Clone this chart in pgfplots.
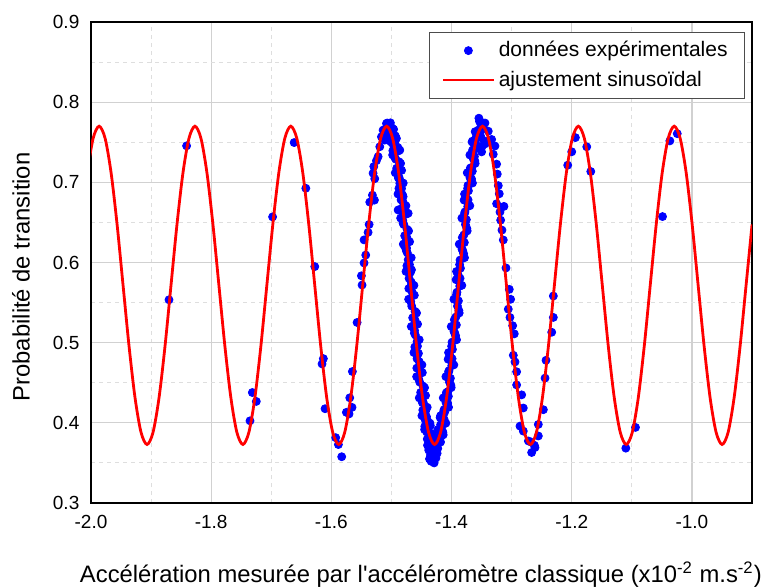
\documentclass[border=0pt]{standalone}
\usepackage{fontspec}
\setmainfont{Liberation Sans}[Ligatures=TeXOff]
\usepackage{pgfplots}
\pgfplotsset{compat=1.18}
\begin{document}
\begin{tikzpicture}
\begin{axis}[
  scale only axis,
  width=330.5pt, height=240.5pt,
  xmin=-2.0, xmax=-0.9, ymin=0.3, ymax=0.9,
  xtick={-2.0,-1.8,-1.6,-1.4,-1.2,-1.0},
  ytick={0.3,0.4,0.5,0.6,0.7,0.8,0.9},
  minor x tick num=1, minor y tick num=1,
  major tick length=0pt, minor tick length=0pt,
  grid=both,
  clip marker paths=true,
  major grid style={solid, color=black!18, line width=0.6pt},
  minor grid style={color=black!13, line width=0.5pt, dash pattern=on 2pt off 2pt},
  axis line style={line width=0.9pt, black},
  /pgf/number format/assume math mode=true,
  xticklabel style={font=\fontsize{9.5}{11}\selectfont, yshift=-2.5pt, /pgf/number format/fixed, /pgf/number format/fixed zerofill, /pgf/number format/precision=1},
  yticklabel style={font=\fontsize{9.5}{11}\selectfont, xshift=-2.3pt, /pgf/number format/fixed, /pgf/number format/fixed zerofill, /pgf/number format/precision=1},
  xlabel={Accélération mesurée par l'accéléromètre classique (x10\textsuperscript{-2} m.s\textsuperscript{-2})},
  ylabel={Probabilité de transition},
  xlabel style={at={(axis description cs:0.499,-0.165)}, anchor=base, font=\fontsize{11.9}{14}\selectfont},
  ylabel style={at={(axis description cs:-0.1059,0.47)}, anchor=center, font=\fontsize{11.9}{14}\selectfont},
  legend style={at={(1,1)}, anchor=north east, xshift=-3.5pt, yshift=-5pt, draw=black!70, font=\fontsize{10.5}{12}\selectfont, row sep=1.5pt, inner xsep=6.5pt, inner ysep=2.5pt},
  legend cell align=left,
  legend image code/.code={\draw[mark repeat=2,mark phase=2,#1] plot coordinates {(0pt,0pt) (12.5pt,0pt) (25pt,0pt)};},
]
\addplot[only marks, mark=*, mark size=2pt, color=blue, mark options={draw=blue, fill=blue}] coordinates {
(-1.8702,0.5535) (-1.8409,0.7455) (-1.7354,0.4025) (-1.7315,0.4378) (-1.7249,0.4267)
(-1.6978,0.6569) (-1.6619,0.7496) (-1.6425,0.6926) (-1.6276,0.5949) (-1.6133,0.4801)
(-1.6155,0.4735) (-1.6105,0.4176) (-1.5928,0.3815) (-1.5883,0.3729) (-1.5828,0.3577)
(-1.5750,0.4131) (-1.5706,0.4111) (-1.5656,0.4193) (-1.5694,0.4312) (-1.5650,0.4640)
(-1.5572,0.5252) (-1.5489,0.5719) (-1.5500,0.5834) (-1.5456,0.5994) (-1.5428,0.6093)
(-1.5456,0.6282) (-1.5389,0.6376) (-1.5372,0.6474) (-1.5361,0.6753) (-1.5283,0.6778)
(-1.5317,0.6840) (-1.5278,0.7045) (-1.5306,0.7114) (-1.5294,0.7197) (-1.5250,0.7270)
(-1.5222,0.7320) (-1.5194,0.7444) (-1.5167,0.7568) (-1.5139,0.7651) (-1.5111,0.7527)
(-1.5083,0.7734) (-1.5028,0.7631) (-1.4972,0.7589) (-1.4917,0.7548) (-1.5100,0.7600)
(-1.5050,0.7560) (-1.5000,0.7500) (-1.4950,0.7420)
(-1.4861,0.7402) (-1.4861,0.6988) (-1.4806,0.6822) (-1.4861,0.6656) (-1.4722,0.6614)
(-1.4806,0.6490) (-1.4750,0.6282) (-1.4778,0.6200) (-1.4722,0.6033) (-1.4667,0.5909)
(-1.4667,0.5722) (-1.4889,0.6655)
(-1.5070,0.7740) (-1.5110,0.7660) (-1.5078,0.7662) (-1.5018,0.7742) (-1.5006,0.7690)
(-1.5046,0.7610) (-1.5014,0.7582) (-1.4964,0.7662) (-1.5001,0.7640) (-1.4971,0.7560)
(-1.4949,0.7504) (-1.5009,0.7584) (-1.4937,0.7474) (-1.4977,0.7394) (-1.4945,0.7311)
(-1.4885,0.7391) (-1.4873,0.7256) (-1.4913,0.7176) (-1.4881,0.7069) (-1.4831,0.7149)
(-1.4869,0.7051) (-1.4839,0.6971) (-1.4816,0.6844) (-1.4876,0.6924) (-1.4804,0.6748)
(-1.4844,0.6668) (-1.4812,0.6524) (-1.4752,0.6604) (-1.4740,0.6414) (-1.4780,0.6334)
(-1.4748,0.6179) (-1.4698,0.6259) (-1.4736,0.6120) (-1.4706,0.6040) (-1.4683,0.5878)
(-1.4743,0.5958) (-1.4671,0.5755) (-1.4711,0.5675) (-1.4679,0.5512) (-1.4619,0.5592)
(-1.4607,0.5390) (-1.4647,0.5310) (-1.4615,0.5151) (-1.4565,0.5231) (-1.4603,0.5096)
(-1.4573,0.5016) (-1.4551,0.4866) (-1.4611,0.4946) (-1.4538,0.4763) (-1.4578,0.4683)
(-1.4546,0.4546) (-1.4486,0.4626) (-1.4474,0.4459) (-1.4514,0.4379) (-1.4482,0.4261)
(-1.4432,0.4341) (-1.4470,0.4254) (-1.4440,0.4174) (-1.4418,0.4079) (-1.4478,0.4159)
(-1.4405,0.4036) (-1.4445,0.3956) (-1.4413,0.3886) (-1.4353,0.3966) (-1.4341,0.3870)
(-1.4381,0.3790) (-1.4349,0.3748) (-1.4299,0.3828) (-1.4337,0.3820) (-1.4307,0.3740)
(-1.4285,0.3728) (-1.4345,0.3808) (-1.4273,0.3770) (-1.4313,0.3690)
(-1.5054,0.7696) (-1.5062,0.7681) (-1.5010,0.7651) (-1.5018,0.7606) (-1.4965,0.7547)
(-1.4973,0.7474) (-1.4921,0.7388) (-1.4929,0.7289) (-1.4877,0.7178) (-1.4885,0.7055)
(-1.4832,0.6923) (-1.4840,0.6781) (-1.4788,0.6631) (-1.4796,0.6474) (-1.4744,0.6312)
(-1.4752,0.6145) (-1.4700,0.5974) (-1.4707,0.5802) (-1.4655,0.5629) (-1.4663,0.5456)
(-1.4611,0.5286) (-1.4619,0.5119) (-1.4567,0.4956) (-1.4574,0.4800) (-1.4522,0.4650)
(-1.4530,0.4508) (-1.4478,0.4375) (-1.4486,0.4253) (-1.4434,0.4142) (-1.4442,0.4043)
(-1.4389,0.3956) (-1.4397,0.3883) (-1.4345,0.3824) (-1.4353,0.3779) (-1.4301,0.3749)
(-1.4309,0.3734)
(-1.4981,0.7670) (-1.5069,0.7632) (-1.4936,0.7580) (-1.5024,0.7514) (-1.4892,0.7434)
(-1.4980,0.7341) (-1.4848,0.7236) (-1.4936,0.7119) (-1.4804,0.6991) (-1.4891,0.6854)
(-1.4759,0.6708) (-1.4847,0.6554) (-1.4715,0.6394) (-1.4803,0.6229) (-1.4671,0.6060)
(-1.4758,0.5888) (-1.4626,0.5715) (-1.4714,0.5542) (-1.4582,0.5370) (-1.4670,0.5201)
(-1.4538,0.5036) (-1.4626,0.4876) (-1.4493,0.4723) (-1.4581,0.4576) (-1.4449,0.4439)
(-1.4537,0.4311) (-1.4405,0.4194) (-1.4493,0.4089) (-1.4360,0.3996) (-1.4448,0.3916)
(-1.4316,0.3850) (-1.4404,0.3798) (-1.4272,0.3760)
(-1.4367,0.3550) (-1.4340,0.3520) (-1.4310,0.3580) (-1.4285,0.3610) (-1.4260,0.3560)
(-1.4240,0.3620) (-1.4320,0.3640) (-1.4380,0.3660) (-1.4400,0.3720) (-1.4230,0.3680)
(-1.4290,0.3500) (-1.4350,0.3600)
(-1.4250,0.3778) (-1.4290,0.3698) (-1.4258,0.3730) (-1.4198,0.3810) (-1.4186,0.3818)
(-1.4226,0.3738) (-1.4194,0.3800) (-1.4144,0.3880) (-1.4182,0.3976) (-1.4152,0.3896)
(-1.4130,0.3986) (-1.4190,0.4066) (-1.4117,0.4129) (-1.4157,0.4049) (-1.4125,0.4164)
(-1.4065,0.4244) (-1.4053,0.4331) (-1.4093,0.4251) (-1.4061,0.4389) (-1.4011,0.4469)
(-1.4049,0.4636) (-1.4019,0.4556) (-1.3997,0.4713) (-1.4057,0.4793) (-1.3985,0.4916)
(-1.4025,0.4836) (-1.3992,0.5006) (-1.3932,0.5086) (-1.3920,0.5221) (-1.3960,0.5141)
(-1.3928,0.5320) (-1.3878,0.5400) (-1.3916,0.5602) (-1.3886,0.5522) (-1.3864,0.5705)
(-1.3924,0.5785) (-1.3852,0.5928) (-1.3892,0.5848) (-1.3859,0.6030) (-1.3799,0.6110)
(-1.3787,0.6249) (-1.3827,0.6169) (-1.3795,0.6344) (-1.3745,0.6424) (-1.3783,0.6614)
(-1.3753,0.6534) (-1.3731,0.6698) (-1.3791,0.6778) (-1.3719,0.6894) (-1.3759,0.6814)
(-1.3727,0.6961) (-1.3667,0.7041) (-1.3654,0.7139) (-1.3694,0.7059) (-1.3662,0.7186)
(-1.3612,0.7266) (-1.3650,0.7401) (-1.3620,0.7321) (-1.3598,0.7424) (-1.3658,0.7504)
(-1.3586,0.7554) (-1.3626,0.7474) (-1.3594,0.7550) (-1.3534,0.7630) (-1.3522,0.7652)
(-1.3562,0.7572) (-1.3529,0.7620) (-1.3479,0.7700) (-1.3517,0.7752) (-1.3487,0.7672)
(-1.3475,0.7690) (-1.3535,0.7760)
(-1.4256,0.3734) (-1.4264,0.3749) (-1.4212,0.3779) (-1.4220,0.3824) (-1.4168,0.3883)
(-1.4176,0.3956) (-1.4124,0.4043) (-1.4131,0.4142) (-1.4079,0.4253) (-1.4087,0.4375)
(-1.4035,0.4508) (-1.4043,0.4650) (-1.3991,0.4800) (-1.3999,0.4956) (-1.3946,0.5119)
(-1.3954,0.5286) (-1.3902,0.5456) (-1.3910,0.5629) (-1.3858,0.5802) (-1.3866,0.5974)
(-1.3813,0.6145) (-1.3821,0.6312) (-1.3769,0.6474) (-1.3777,0.6631) (-1.3725,0.6781)
(-1.3733,0.6923) (-1.3681,0.7055) (-1.3688,0.7178) (-1.3636,0.7289) (-1.3644,0.7388)
(-1.3592,0.7474) (-1.3600,0.7547) (-1.3548,0.7606) (-1.3555,0.7651) (-1.3503,0.7681)
(-1.3511,0.7696)
(-1.4183,0.3760) (-1.4271,0.3798) (-1.4139,0.3850) (-1.4227,0.3916) (-1.4095,0.3996)
(-1.4182,0.4089) (-1.4050,0.4194) (-1.4138,0.4311) (-1.4006,0.4439) (-1.4094,0.4576)
(-1.3962,0.4723) (-1.4050,0.4876) (-1.3917,0.5036) (-1.4005,0.5201) (-1.3873,0.5370)
(-1.3961,0.5542) (-1.3829,0.5715) (-1.3917,0.5888) (-1.3784,0.6060) (-1.3872,0.6229)
(-1.3740,0.6394) (-1.3828,0.6554) (-1.3696,0.6708) (-1.3784,0.6854) (-1.3652,0.6991)
(-1.3739,0.7119) (-1.3607,0.7236) (-1.3695,0.7341) (-1.3563,0.7434) (-1.3651,0.7514)
(-1.3519,0.7580) (-1.3607,0.7632) (-1.3474,0.7670)
(-1.3545,0.7800) (-1.3490,0.7450) (-1.3460,0.7520) (-1.3500,0.7380) (-1.3440,0.7480)
(-1.3520,0.7560)
(-1.3444,0.7740) (-1.3389,0.7638) (-1.3333,0.7535) (-1.3278,0.7453) (-1.3306,0.7350)
(-1.3250,0.7227) (-1.3239,0.7103) (-1.3222,0.6959) (-1.3206,0.6857) (-1.3250,0.6733)
(-1.3128,0.6700) (-1.3194,0.6630) (-1.3183,0.6528) (-1.3161,0.6404) (-1.3139,0.6281)
(-1.3094,0.5932) (-1.3039,0.5665) (-1.3017,0.5541) (-1.3056,0.5418) (-1.3028,0.5315)
(-1.2983,0.5212) (-1.2956,0.5110) (-1.2972,0.4843) (-1.2944,0.4760) (-1.2917,0.4637)
(-1.2917,0.4473) (-1.2833,0.4349) (-1.2806,0.4185) (-1.2861,0.3959) (-1.2806,0.3897)
(-1.2722,0.3774) (-1.2667,0.3630) (-1.2611,0.3692) (-1.2678,0.3760) (-1.2622,0.3720)
(-1.2556,0.3836) (-1.2556,0.3980) (-1.2472,0.4164) (-1.2444,0.4558) (-1.2428,0.4780)
(-1.2333,0.5130) (-1.2306,0.5315) (-1.2306,0.5582)
(-1.2067,0.7214) (-1.2000,0.7381) (-1.1939,0.7558) (-1.1750,0.7443) (-1.1683,0.7135)
(-1.1100,0.3684) (-1.0939,0.3943) (-1.0489,0.6573) (-1.0367,0.7517) (-1.0244,0.7607)
};
\addlegendentry{données expérimentales}
\addplot[color=red, line width=1.4pt, smooth, mark=none] coordinates {
(-2.00644,0.7119) (-1.99647,0.7549) (-1.98650,0.7700) (-1.97653,0.7549) (-1.96656,0.7119)
(-1.95659,0.6475) (-1.94663,0.5715) (-1.93666,0.4955) (-1.92669,0.4311) (-1.91672,0.3881)
(-1.90675,0.3730) (-1.89678,0.3881) (-1.88681,0.4311) (-1.87684,0.4955) (-1.86688,0.5715)
(-1.85691,0.6475) (-1.84694,0.7119) (-1.83697,0.7549) (-1.82700,0.7700) (-1.81703,0.7549)
(-1.80706,0.7119) (-1.79709,0.6475) (-1.78713,0.5715) (-1.77716,0.4955) (-1.76719,0.4311)
(-1.75722,0.3881) (-1.74725,0.3730) (-1.73728,0.3881) (-1.72731,0.4311) (-1.71734,0.4955)
(-1.70738,0.5715) (-1.69741,0.6475) (-1.68744,0.7119) (-1.67747,0.7549) (-1.66750,0.7700)
(-1.65753,0.7549) (-1.64756,0.7119) (-1.63759,0.6475) (-1.62763,0.5715) (-1.61766,0.4955)
(-1.60769,0.4311) (-1.59772,0.3881) (-1.58775,0.3730) (-1.57778,0.3881) (-1.56781,0.4311)
(-1.55784,0.4955) (-1.54788,0.5715) (-1.53791,0.6475) (-1.52794,0.7119) (-1.51797,0.7549)
(-1.50800,0.7700) (-1.49803,0.7549) (-1.48806,0.7119) (-1.47809,0.6475) (-1.46813,0.5715)
(-1.45816,0.4955) (-1.44819,0.4311) (-1.43822,0.3881) (-1.42825,0.3730) (-1.41828,0.3881)
(-1.40831,0.4311) (-1.39834,0.4955) (-1.38838,0.5715) (-1.37841,0.6475) (-1.36844,0.7119)
(-1.35847,0.7549) (-1.34850,0.7700) (-1.33853,0.7549) (-1.32856,0.7119) (-1.31859,0.6475)
(-1.30863,0.5715) (-1.29866,0.4955) (-1.28869,0.4311) (-1.27872,0.3881) (-1.26875,0.3730)
(-1.25878,0.3881) (-1.24881,0.4311) (-1.23884,0.4955) (-1.22888,0.5715) (-1.21891,0.6475)
(-1.20894,0.7119) (-1.19897,0.7549) (-1.18900,0.7700) (-1.17903,0.7549) (-1.16906,0.7119)
(-1.15909,0.6475) (-1.14913,0.5715) (-1.13916,0.4955) (-1.12919,0.4311) (-1.11922,0.3881)
(-1.10925,0.3730) (-1.09928,0.3881) (-1.08931,0.4311) (-1.07934,0.4955) (-1.06938,0.5715)
(-1.05941,0.6475) (-1.04944,0.7119) (-1.03947,0.7549) (-1.02950,0.7700) (-1.01953,0.7549)
(-1.00956,0.7119) (-0.99959,0.6475) (-0.98963,0.5715) (-0.97966,0.4955) (-0.96969,0.4311)
(-0.95972,0.3881) (-0.94975,0.3730) (-0.93978,0.3881) (-0.92981,0.4311) (-0.91984,0.4955)
(-0.90988,0.5715) (-0.89991,0.6475)
};
\addlegendentry{ajustement sinusoïdal}
\end{axis}
\pgfresetboundingbox
\useasboundingbox (-45.5pt,-42pt) rectangle (336pt,251.5pt);
\end{tikzpicture}
\end{document}
